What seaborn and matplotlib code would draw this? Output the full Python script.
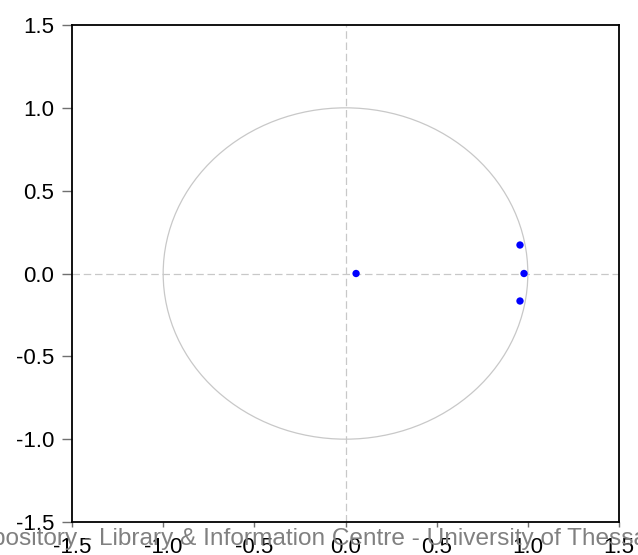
import matplotlib
matplotlib.use("Agg")
import matplotlib.pyplot as plt
from matplotlib.patches import Circle
import seaborn as sns
import pandas as pd

# inverse roots (real, imaginary)
root_real = [0.058, 0.957, 0.979, 0.957]
root_imag = [0.0, 0.172, 0.0, -0.166]
tick_vals = [-1.5, -1.0, -0.5, 0.0, 0.5, 1.0, 1.5]
watermark = "Institutional Repository - Library & Information Centre - University of Thessaly"

sns.set_style("white")
plt.rcParams["font.family"] = ["Liberation Sans", "DejaVu Sans"]

fig = plt.figure(figsize=(6.38, 5.55), dpi=100)
ax = fig.add_axes([72 / 638, 1 - 522 / 555, 547 / 638, 497 / 555])

# unit circle and zero lines
ax.add_patch(Circle((0, 0), 1.0, fill=False, edgecolor="#c8c8c8", linewidth=0.9))
ax.axhline(0, color="#c8c8c8", linestyle=(0, (6, 3)), linewidth=0.9)
ax.axvline(0, color="#c8c8c8", linestyle=(0, (6, 3)), linewidth=0.9)

df = pd.DataFrame({"re": root_real, "im": root_imag})
sns.scatterplot(data=df, x="re", y="im", ax=ax, color="#0000ff", s=28,
                edgecolor="none", zorder=3)

ax.set_xlim(-1.5, 1.5)
ax.set_ylim(-1.5, 1.5)
ax.set_xticks(tick_vals)
ax.set_yticks(tick_vals)
ax.set_xticklabels([f"{v:.1f}" for v in tick_vals])
ax.set_yticklabels([f"{v:.1f}" for v in tick_vals])
ax.set_xlabel("")
ax.set_ylabel("")
ax.tick_params(axis="both", direction="out", width=1, color="#707070",
               labelsize=16, labelcolor="black",
               bottom=True, left=True, top=False, right=False)
ax.tick_params(axis="x", length=3.6, pad=7)
ax.tick_params(axis="y", length=7.2, pad=5.5)
for sp in ax.spines.values():
    sp.set_color("black")
    sp.set_linewidth(1.3)

# repository watermark across the bottom edge
fig.text(-169 / 638, 1 - 545 / 555, watermark, ha="left", va="baseline",
         fontsize=17.6, color="#808080", zorder=0)

fig.savefig("out.png", dpi=100)
